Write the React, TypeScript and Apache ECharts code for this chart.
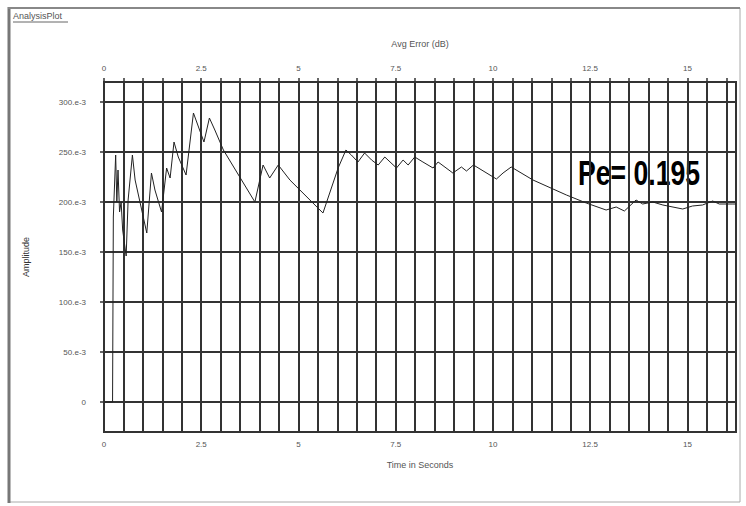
import React, { useEffect, useRef } from "react";
import * as echarts from "echarts";

// Sampled trace: time (s) and amplitude
const times = [
  0, 0.22, 0.24, 0.3, 0.33, 0.36, 0.4, 0.44, 0.48, 0.57, 0.62, 0.73, 0.8, 1.1,
  1.22, 1.31, 1.48, 1.61, 1.7, 1.8, 1.91, 2.11, 2.3, 2.43, 2.57, 2.71, 2.85,
  3.07, 3.88, 4.09, 4.26, 4.48, 4.78, 5.63, 6.02, 6.22, 6.36, 6.53, 6.7, 6.88,
  7.05, 7.22, 7.52, 7.69, 7.82, 7.99, 8.2, 8.46, 8.59, 8.97, 9.19, 9.32, 9.5,
  10.09, 10.26, 10.47, 11.03, 11.89, 12.4, 12.91, 13.17, 13.38, 13.68, 13.85,
  14.11, 14.37, 14.88, 15.13, 15.39, 15.65, 15.82, 16.17, 16.25,
];
const amplitudes = [
  0, 0, 0.185, 0.247, 0.2, 0.232, 0.19, 0.2, 0.172, 0.146, 0.202, 0.247, 0.222,
  0.169, 0.229, 0.212, 0.19, 0.234, 0.224, 0.26, 0.245, 0.227, 0.289, 0.275,
  0.26, 0.284, 0.272, 0.252, 0.2, 0.237, 0.224, 0.237, 0.222, 0.189, 0.234,
  0.252, 0.247, 0.24, 0.249, 0.242, 0.237, 0.245, 0.234, 0.242, 0.237, 0.245,
  0.24, 0.234, 0.24, 0.229, 0.235, 0.231, 0.237, 0.223, 0.229, 0.235, 0.222,
  0.207, 0.199, 0.192, 0.195, 0.191, 0.202, 0.198, 0.2, 0.197, 0.193, 0.196,
  0.197, 0.201, 0.198, 0.198, 0.198,
];

const chartTitle = "AnalysisPlot";
const topAxisName = "Avg Error (dB)";
const bottomAxisName = "Time in Seconds";
const yAxisName = "Amplitude";
const annotation = "Pe= 0.195";

const X_MIN = 0;
const X_MAX = 16.25;
const Y_MIN = -0.03;
const Y_MAX = 0.32;

const FONT = "Liberation Sans, Arial, sans-serif";
const LABEL_COLOR = "#555";
const GRID_COLOR = "#333";

function isMultiple(v: number, step: number) {
  const r = v / step;
  return Math.abs(r - Math.round(r)) < 1e-6;
}

function xLabel(v: number) {
  if (!isMultiple(v, 2.5) || v > 15.01) return "";
  return String(Math.round(v * 10) / 10);
}

function yLabel(v: number) {
  if (!isMultiple(v, 0.05) || v < -1e-9) return "";
  if (Math.abs(v) < 1e-9) return "0";
  return Math.round(v * 1000) + ".e-3";
}

export default function App() {
  const ref = useRef<HTMLDivElement>(null);

  useEffect(() => {
    if (!ref.current) return;
    const chart = echarts.init(ref.current, undefined, { renderer: "svg" });

    const data = times.map((t, i) => [t, amplitudes[i]]);

    const xCommon = {
      type: "value" as const,
      min: X_MIN,
      max: X_MAX,
      interval: 0.5,
      nameLocation: "middle" as const,
      nameTextStyle: { color: LABEL_COLOR, fontSize: 9, fontFamily: FONT },
      axisLine: { show: true, lineStyle: { color: GRID_COLOR, width: 2 } },
      axisTick: { show: true, length: 3, lineStyle: { color: GRID_COLOR, width: 1.5 } },
      axisLabel: {
        formatter: xLabel,
        color: LABEL_COLOR,
        fontSize: 8,
        fontFamily: FONT,
        showMaxLabel: false,
        hideOverlap: false,
      },
    };

    chart.setOption({
      animation: false,
      backgroundColor: "#fff",
      grid: {
        left: 104,
        right: 10,
        top: 82,
        bottom: 74,
        show: true,
        borderColor: GRID_COLOR,
        borderWidth: 2,
      },
      xAxis: [
        {
          ...xCommon,
          position: "bottom",
          name: bottomAxisName,
          nameGap: 28,
          axisLabel: { ...xCommon.axisLabel, margin: 8 },
          splitLine: { show: true, lineStyle: { color: GRID_COLOR, width: 2 } },
        },
        {
          ...xCommon,
          position: "top",
          name: topAxisName,
          nameGap: 34,
          axisTick: { show: true, length: 4, lineStyle: { color: GRID_COLOR, width: 1.5 } },
          axisLabel: { ...xCommon.axisLabel, margin: 10 },
          splitLine: { show: false },
        },
      ],
      yAxis: {
        type: "value",
        min: Y_MIN,
        max: Y_MAX,
        splitNumber: 7,
        name: yAxisName,
        nameLocation: "middle",
        nameGap: 74,
        nameTextStyle: { color: "#333", fontSize: 9, fontFamily: FONT },
        axisLine: { show: true, lineStyle: { color: GRID_COLOR, width: 2 } },
        axisTick: { show: true, length: 4, lineStyle: { color: GRID_COLOR, width: 1.5 } },
        axisLabel: {
          formatter: yLabel,
          color: LABEL_COLOR,
          fontSize: 8,
          fontFamily: FONT,
          margin: 18,
          showMinLabel: false,
          showMaxLabel: false,
        },
        splitLine: { show: true, lineStyle: { color: GRID_COLOR, width: 2 } },
      },
      series: [
        {
          type: "line",
          data,
          showSymbol: false,
          symbol: "none",
          lineStyle: { color: "#222", width: 1 },
          clip: true,
        },
      ],
      graphic: [
        // outer frame
        {
          type: "rect",
          shape: { x: 9, y: 8, width: 731, height: 494 },
          style: { fill: "none", stroke: "#aaa", lineWidth: 1 },
          silent: true,
        },
        {
          type: "line",
          shape: { x1: 9, y1: 7, x2: 9, y2: 503 },
          style: { stroke: "#777", lineWidth: 3 },
          silent: true,
        },
        {
          type: "line",
          shape: { x1: 8, y1: 8, x2: 740, y2: 8 },
          style: { stroke: "#888", lineWidth: 2 },
          silent: true,
        },
        // underlined caption
        {
          type: "text",
          x: 13,
          y: 11,
          style: {
            text: chartTitle,
            fill: "#555",
            fontSize: 9,
            fontFamily: FONT,
          },
          silent: true,
        },
        {
          type: "line",
          shape: { x1: 13, y1: 22, x2: 68, y2: 22 },
          style: { stroke: "#666", lineWidth: 1 },
          silent: true,
        },
        // result annotation
        {
          type: "group",
          x: 578,
          y: 172,
          scaleX: 0.74,
          children: [
            {
              type: "text",
              x: 0,
              y: 0,
              style: {
                text: annotation,
                fill: "#000",
                fontSize: 36,
                fontWeight: "bold",
                fontFamily: FONT,
                align: "left",
                verticalAlign: "middle",
              },
            },
          ],
        },
      ],
    });

    return () => chart.dispose();
  }, []);

  return (
    <div
      ref={ref}
      style={{ position: "fixed", left: 0, top: 0, width: 746, height: 506 }}
    />
  );
}
